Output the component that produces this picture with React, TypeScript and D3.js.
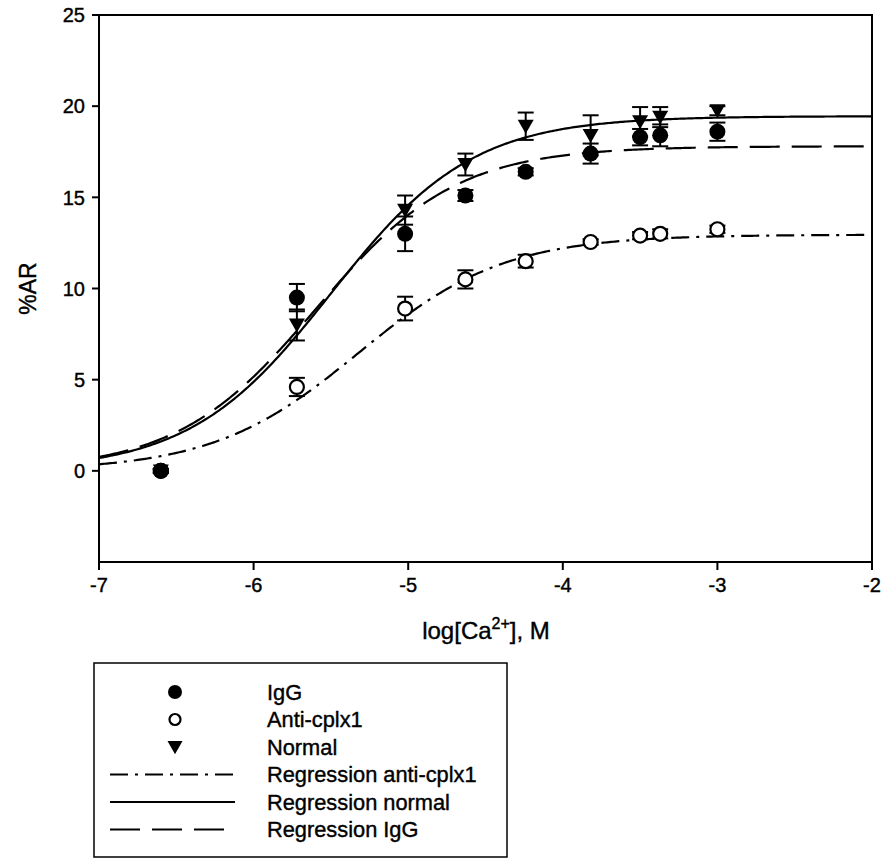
import * as d3 from 'd3';

// log[Ca2+] (M) at which release was measured
const logCa = [-6.6, -5.72, -5.02, -4.63, -4.24, -3.82, -3.5, -3.37, -3.0];

// %AR, mean and error per group
const igg = [0.0, 9.5, 13.0, 15.1, 16.4, 17.4, 18.3, 18.4, 18.6];
const iggErr = [0.1, 0.75, 0.95, 0.3, 0.2, 0.55, 0.45, 0.6, 0.5];
const anti = [0.0, 4.6, 8.9, 10.5, 11.5, 12.55, 12.9, 13.0, 13.25];
const antiErr = [0.1, 0.5, 0.65, 0.5, 0.35, 0.15, 0.2, 0.25, 0.2];
const normal = [0.0, 8.0, 14.3, 16.8, 18.9, 18.4, 19.15, 19.4, 19.75];
const normalErr = [0.1, 0.85, 0.8, 0.6, 0.75, 1.1, 0.8, 0.55, 0.25];

// sigmoidal regression parameters: [bottom, top, logEC50, hill]
const fitNormal = [0, 19.45, -5.5, 0.95];
const fitIgG = [0, 17.8, -5.595, 0.96];
const fitAnti = [0, 12.95, -5.32, 0.92];

const xTicks = [-7, -6, -5, -4, -3, -2];
const yTicks = [0, 5, 10, 15, 20, 25];

const legendItems = ['IgG', 'Anti-cplx1', 'Normal', 'Regression anti-cplx1', 'Regression normal', 'Regression IgG'];

const FONT = '"Liberation Sans", Arial, sans-serif';

const hill = (p: number[], x: number) => p[0] + (p[1] - p[0]) / (1 + Math.pow(10, (p[2] - x) * p[3]));

export default function App() {
  const W = 888, H = 860;
  const m = { l: 99, r: 872, t: 15, b: 562 };
  const x = d3.scaleLinear().domain([-7, -2]).range([m.l, m.r]);
  const y = d3.scaleLinear().domain([-5, 25]).range([m.b, m.t]);

  const grid = d3.range(0, 401).map(i => -7 + (i * 5) / 400);
  const line = (p: number[]) =>
    d3.line<number>().x(d => x(d)).y(d => y(hill(p, d)))(grid) || '';

  const curves = [
    { p: fitAnti, dash: '18,7,3,7' },
    { p: fitNormal, dash: null },
    { p: fitIgG, dash: '30,12' },
  ];

  const errBars = (vals: number[], errs: number[], key: string) =>
    logCa.map((c, i) => {
      const cx = x(c);
      const y1 = y(vals[i] + errs[i]);
      const y0 = y(vals[i] - errs[i]);
      return (
        <g key={key + i} stroke="#000" strokeWidth={2}>
          <line x1={cx} x2={cx} y1={y1} y2={y0} />
          <line x1={cx - 8} x2={cx + 8} y1={y1} y2={y1} />
          <line x1={cx - 8} x2={cx + 8} y1={y0} y2={y0} />
        </g>
      );
    });

  const tri = (cx: number, cy: number, s: number) =>
    `M${cx - s},${cy - s * 0.8}L${cx + s},${cy - s * 0.8}L${cx},${cy + s * 0.95}Z`;

  const lx0 = 110, lx1 = 235, lsym = 175, ltext = 267;
  const rowY = (i: number) => 692 + i * 27.5;
  const txt = { fontFamily: FONT, stroke: '#000', strokeWidth: 0.4 };

  return (
    <svg width={W} height={H} style={{ position: 'absolute', left: 0, top: 0 }}>
      <rect width={W} height={H} fill="#fff" />

      {/* regression curves */}
      {curves.map((c, i) => (
        <path key={i} d={line(c.p)} fill="none" stroke="#000" strokeWidth={2.2}
          strokeDasharray={c.dash || undefined} />
      ))}

      {/* error bars */}
      {errBars(anti, antiErr, 'a')}
      {errBars(normal, normalErr, 'n')}
      {errBars(igg, iggErr, 'g')}

      {/* markers */}
      {logCa.map((c, i) => (
        <circle key={'ac' + i} cx={x(c)} cy={y(anti[i])} r={7} fill="#fff" stroke="#000" strokeWidth={2.2} />
      ))}
      {logCa.map((c, i) => (
        <path key={'nt' + i} d={tri(x(c), y(normal[i]), 8)} fill="#000" />
      ))}
      {logCa.map((c, i) => (
        <circle key={'gc' + i} cx={x(c)} cy={y(igg[i])} r={8} fill="#000" />
      ))}

      {/* frame */}
      <rect x={m.l} y={m.t} width={m.r - m.l} height={m.b - m.t} fill="none" stroke="#000" strokeWidth={2} />

      {/* y axis */}
      {yTicks.map(t => (
        <g key={'y' + t}>
          <line x1={m.l - 7} x2={m.l} y1={y(t)} y2={y(t)} stroke="#000" strokeWidth={2} />
          <text x={m.l - 14} y={y(t)} dy="0.36em" textAnchor="end" fontSize={20} {...txt}>{t}</text>
        </g>
      ))}
      {/* x axis */}
      {xTicks.map(t => (
        <g key={'x' + t}>
          <line x1={x(t)} x2={x(t)} y1={m.b} y2={m.b + 8} stroke="#000" strokeWidth={2} />
          <text x={x(t)} y={592} textAnchor="middle" fontSize={20} {...txt}>{t}</text>
        </g>
      ))}

      <text x={486} y={639} textAnchor="middle" fontSize={24} {...txt}>
        log[Ca<tspan fontSize={16} dy={-10}>2+</tspan><tspan dy={10}>], M</tspan>
      </text>
      <text transform={`translate(36,${(m.t + m.b) / 2}) rotate(-90)`} textAnchor="middle"
        fontSize={23} {...txt}>%AR</text>

      {/* legend */}
      <rect x={94} y={663} width={413} height={194} fill="none" stroke="#000" strokeWidth={1.5} />
      <circle cx={lsym} cy={rowY(0)} r={7} fill="#000" />
      <circle cx={lsym} cy={rowY(1)} r={5.5} fill="#fff" stroke="#000" strokeWidth={2.2} />
      <path d={tri(lsym, rowY(2), 7.5)} fill="#000" />
      <line x1={lx0} x2={lx1} y1={rowY(3)} y2={rowY(3)} stroke="#000" strokeWidth={2.2} strokeDasharray="18,7,3,7" />
      <line x1={lx0} x2={lx1} y1={rowY(4)} y2={rowY(4)} stroke="#000" strokeWidth={2.2} />
      <line x1={lx0} x2={lx1} y1={rowY(5)} y2={rowY(5)} stroke="#000" strokeWidth={2.2} strokeDasharray="30,12" />
      {legendItems.map((t, i) => (
        <text key={t} x={ltext} y={rowY(i)} dy="0.36em" fontSize={21.8} {...txt}>{t}</text>
      ))}
    </svg>
  );
}
